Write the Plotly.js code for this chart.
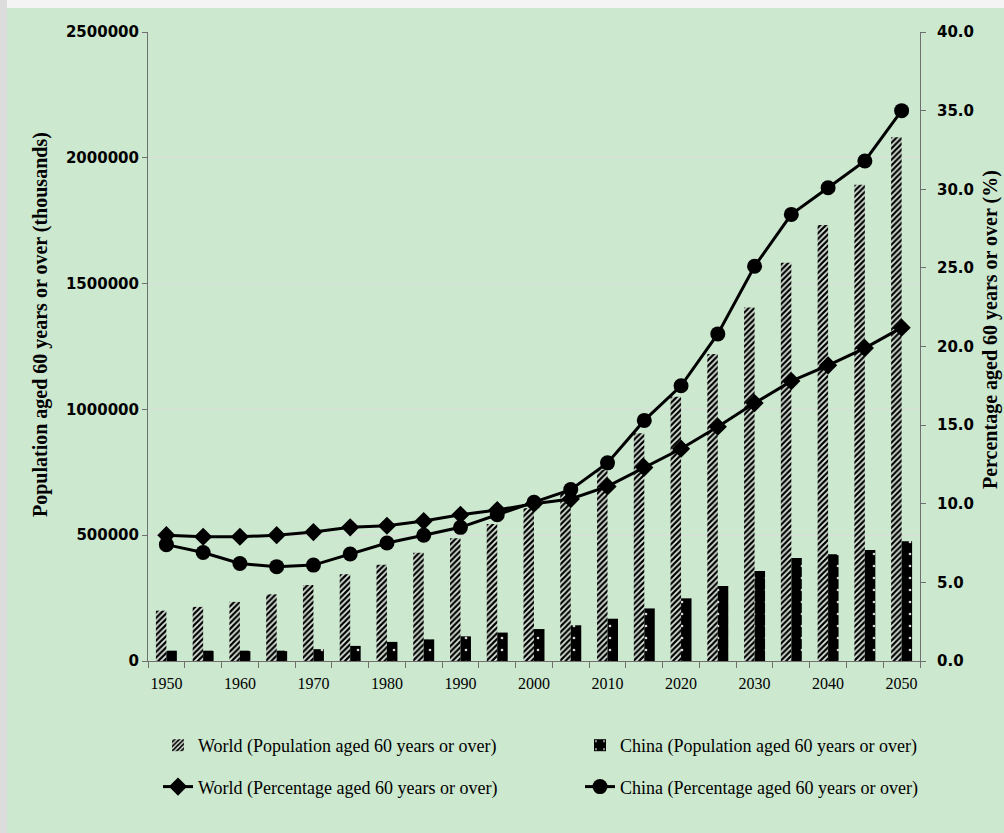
<!DOCTYPE html>
<html>
<head>
<meta charset="utf-8">
<script src="https://cdn.plot.ly/plotly-3.0.1.min.js"></script>
<style>
html,body{margin:0;padding:0;background:#cce8cf;}
#chart{width:1004px;height:833px;}
</style>
</head>
<body>
<div id="chart"></div>
<script>
const years = [1950,1955,1960,1965,1970,1975,1980,1985,1990,1995,2000,2005,2010,2015,2020,2025,2030,2035,2040,2045,2050];
const worldPop = [200000,215000,235000,265000,302000,345000,383000,430000,488000,545000,607000,670000,760000,905000,1050000,1220000,1405000,1583000,1733000,1893000,2082000];
const chinaPop = [41000,41000,41000,41000,47000,60000,76000,86000,98000,113000,127000,142000,168000,209000,249000,298000,358000,409000,424000,441000,476000];
const worldPct = [8.0,7.9,7.9,8.0,8.2,8.5,8.6,8.9,9.3,9.6,10.0,10.3,11.1,12.3,13.5,14.9,16.4,17.8,18.8,19.9,21.2];
const chinaPct = [7.4,6.9,6.2,6.0,6.1,6.8,7.5,8.0,8.5,9.3,10.1,10.9,12.6,15.3,17.5,20.8,25.1,28.4,30.1,31.8,35.0];
const xLabels = [1950,1960,1970,1980,1990,2000,2010,2020,2030,2040,2050];
const leftTicks = [0,500000,1000000,1500000,2000000,2500000];
const rightTicks = [0,5,10,15,20,25,30,35,40];
const leftTitle = 'Population aged 60 years or over (thousands)';
const rightTitle = 'Percentage aged 60 years or over (%)';

const serif = 'Liberation Serif, Times New Roman, serif';
const sans = 'DejaVu Sans, Verdana, sans-serif';

const traces = [
  {type:'bar', x:years, y:worldPop, name:'World (Population aged 60 years or over)',
   legend:'legend', legendgroup:'a',
   marker:{color:'#dfe9df', line:{width:0},
     pattern:{shape:'/', fgcolor:'#000000', bgcolor:'#dde8dd', size:4, solidity:0.55}}},
  {type:'bar', x:years, y:chinaPop, name:'China (Population aged 60 years or over)',
   legend:'legend2', legendgroup:'c',
   marker:{color:'#000000', line:{width:0},
     pattern:{shape:'.', fgcolor:'#d8d8d8', bgcolor:'#000000', size:12, solidity:0.04}}},
  {type:'scatter', mode:'lines+markers', x:years, y:worldPct, yaxis:'y2',
   name:'World (Percentage aged 60 years or over)', legend:'legend', legendgroup:'b',
   line:{color:'#000000', width:3}, marker:{symbol:'diamond', size:14, color:'#000000'}},
  {type:'scatter', mode:'lines+markers', x:years, y:chinaPct, yaxis:'y2',
   name:'China (Percentage aged 60 years or over)', legend:'legend2', legendgroup:'d',
   line:{color:'#000000', width:3}, marker:{symbol:'circle', size:15, color:'#000000'}}
];

const W = 1004, H = 833, ml = 148, mr = 84, mt = 32, mb = 172;
const pw = W - ml - mr, ph = H - mt - mb;
const px2x = p => (p - ml) / pw;
const py2y = p => (H - mb - p) / ph;

const legendCommon = {xanchor:'left', yanchor:'top', orientation:'v',
  bgcolor:'rgba(0,0,0,0)', borderwidth:0, tracegroupgap:15, itemwidth:30,
  font:{family:serif, size:18, color:'#000000'}};

const layout = {
  width: W, height: H,
  margin:{l:ml, r:mr, t:mt, b:mb, pad:0},
  paper_bgcolor:'#cce8cf', plot_bgcolor:'rgba(0,0,0,0)',
  barmode:'group', bargap:0.43, bargroupgap:0,
  showlegend:true,
  xaxis:{
    range:[1947.5, 2052.5], tickmode:'array', tickvals:xLabels, ticktext:xLabels.map(String),
    ticks:'', showgrid:false, zeroline:false, ticklabelstandoff:8,
    showline:true, linecolor:'#6f6f6f', linewidth:1,
    tickfont:{family:serif, size:16, color:'#000000'},
    minor:{tickmode:'linear', tick0:1947.5, dtick:5, ticks:'outside', ticklen:6, tickcolor:'#6f6f6f', tickwidth:1, showgrid:false}
  },
  yaxis:{
    range:[0, 2500000], tickmode:'array', tickvals:leftTicks, tickformat:'d',
    ticks:'outside', ticklen:5, tickcolor:'#6f6f6f',
    showline:true, linecolor:'#6f6f6f', linewidth:1,
    showgrid:true, gridcolor:'#d9dcd9', gridwidth:1, zeroline:false,
    tickfont:{family:sans, size:15, color:'#000000', weight:'bold'}
  },
  yaxis2:{
    range:[0, 40], overlaying:'y', side:'right', tickmode:'array', tickvals:rightTicks, tickformat:'.1f',
    ticks:'outside', ticklen:5, tickcolor:'#6f6f6f', ticklabelstandoff:8,
    showline:true, linecolor:'#6f6f6f', linewidth:1,
    showgrid:false, zeroline:false,
    tickfont:{family:sans, size:15, color:'#000000', weight:'bold'}
  },
  legend:Object.assign({x:px2x(158), y:py2y(727)}, legendCommon),
  legend2:Object.assign({x:px2x(580), y:py2y(727)}, legendCommon),
  annotations:[
    {text:leftTitle, xref:'paper', yref:'paper', x:px2x(40), y:py2y(325), xanchor:'center', yanchor:'middle',
     textangle:-90, showarrow:false, font:{family:serif, size:20, color:'#000000', weight:'bold'}},
    {text:rightTitle, xref:'paper', yref:'paper', x:px2x(990), y:py2y(330), xanchor:'center', yanchor:'middle',
     textangle:-90, showarrow:false, font:{family:serif, size:20, color:'#000000', weight:'bold'}}
  ],
  shapes:[
    {type:'rect', xref:'paper', yref:'paper', x0:px2x(0), x1:px2x(W), y0:py2y(0), y1:py2y(8),
     fillcolor:'#f4f4f4', line:{width:0}, layer:'above'},
    {type:'rect', xref:'paper', yref:'paper', x0:px2x(0), x1:px2x(7), y0:py2y(0), y1:py2y(H),
     fillcolor:'#dcdcdc', line:{width:0}, layer:'above'}
  ]
};

Plotly.newPlot('chart', traces, layout, {displayModeBar:false, staticPlot:true});
</script>
</body>
</html>
